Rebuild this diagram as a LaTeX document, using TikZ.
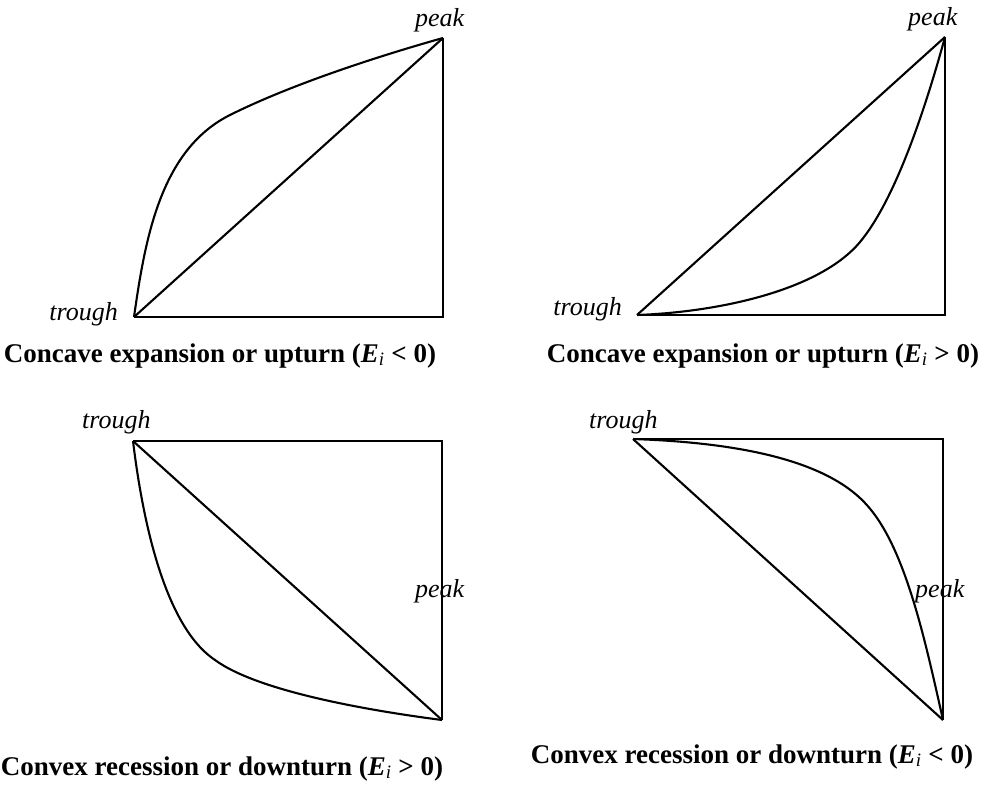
\documentclass[tikz,border=0pt]{standalone}
\usepackage{fontspec}
\setmainfont{Liberation Serif}
\begin{document}
\begin{tikzpicture}[x=1pt,y=-1pt,
  ln/.style={line width=2.1pt, line join=miter},
  lbl/.style={inner sep=0pt, font=\fontsize{26}{26}\selectfont\itshape},
  captxt/.style={inner sep=0pt, anchor=base, font=\fontsize{27}{27}\selectfont\bfseries}]
\useasboundingbox (0,0) rectangle (982,784);

% ---------- panel 1 ----------
\coordinate (t1) at (134,317);
\coordinate (p1) at (443,38);
\draw[ln] (t1) -- (p1 |- t1) -- (p1);
\draw[ln] (t1) -- (p1);
\draw[ln] (t1) .. controls (145,240) and (160,150) .. (230,115)
               .. controls (300,80) and (400,50) .. (p1);
\node[lbl, anchor=base east] (lt1) at (118,320) {trough};
\node[lbl, anchor=base west] (lp1) at (415,27) {peak};
\node[captxt] (c1) at (220,362) {Concave expansion or upturn (\textit{E}\textsubscript{\normalfont\itshape i} < 0)};

% ---------- panel 2 ----------
\coordinate (t2) at (637,315);
\coordinate (p2) at (945,37);
\draw[ln] (t2) -- (p2 |- t2) -- (p2);
\draw[ln] (t2) -- (p2);
\draw[ln] (t2) .. controls (720,312) and (820,290) .. (860,242)
               .. controls (895,200) and (925,110) .. (p2);
\node[lbl, anchor=base east] (lt2) at (622,315) {trough};
\node[lbl, anchor=base west] (lp2) at (908,26) {peak};
\node[captxt] (c2) at (763,362) {Concave expansion or upturn (\textit{E}\textsubscript{\normalfont\itshape i} > 0)};

% ---------- panel 3 ----------
\coordinate (t3) at (133,441);
\coordinate (p3) at (442,720);
\draw[ln] (t3) -- (p3 |- t3) -- (p3);
\draw[ln] (t3) -- (p3);
\draw[ln] (t3) .. controls (145,540) and (170,630) .. (215,660)
               .. controls (260,693) and (380,712) .. (p3);
\node[lbl, anchor=base west] (lt3) at (82,428) {trough};
\node[lbl, anchor=base west] (lp3) at (415,597) {peak};
\node[captxt] (c3) at (222,775) {Convex recession or downturn (\textit{E}\textsubscript{\normalfont\itshape i} > 0)};

% ---------- panel 4 ----------
\coordinate (t4) at (633,439);
\coordinate (p4) at (943,720);
\draw[ln] (t4) -- (p4 |- t4) -- (p4);
\draw[ln] (t4) -- (p4);
\draw[ln] (t4) .. controls (720,442) and (820,455) .. (865,503)
               .. controls (905,545) and (925,640) .. (p4);
\node[lbl, anchor=base west] (lt4) at (589,428) {trough};
\node[lbl, anchor=base west] (lp4) at (915,597) {peak};
\node[captxt] (c4) at (752,763) {Convex recession or downturn (\textit{E}\textsubscript{\normalfont\itshape i} < 0)};
\end{tikzpicture}
\end{document}
